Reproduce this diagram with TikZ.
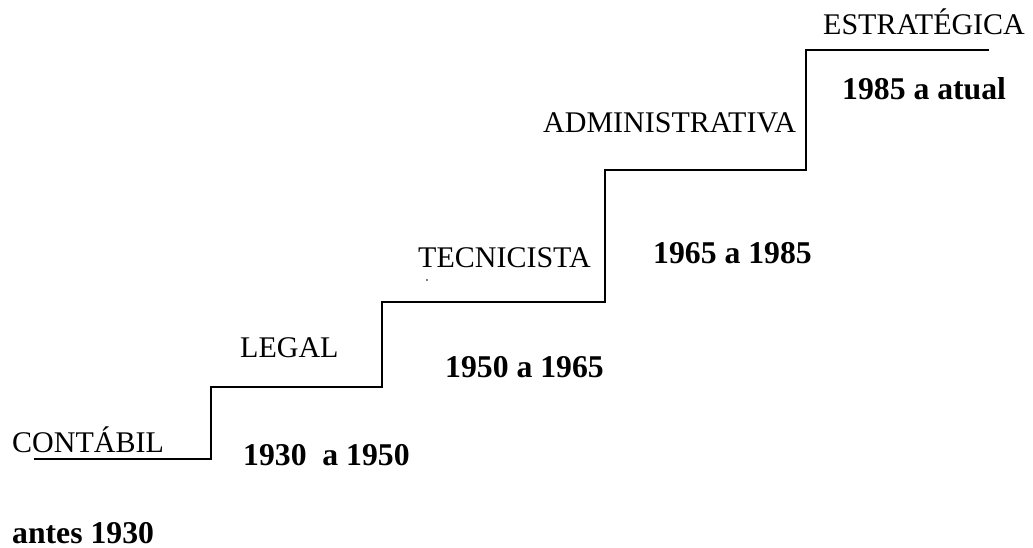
\documentclass[tikz,border=0pt]{standalone}
\usepackage{fontspec}
\setmainfont{Liberation Serif}
\begin{document}
\begin{tikzpicture}[x=1pt,y=-1pt,
  lbl/.style={anchor=base west,inner sep=0pt,font=\fontsize{30}{34}\selectfont},
  yr/.style={anchor=base west,inner sep=0pt,font=\fontsize{31.7}{36}\selectfont\bfseries},
  stair/.style={line width=1.6pt,line join=miter}]
\useasboundingbox (0,0) rectangle (1033,548);
\draw[stair] (34,459) -- (211,459) -- (211,387) -- (382,387) -- (382,302) -- (605,302) -- (605,170) -- (806,170) -- (806,50) -- (989,50);
\node[lbl] (contabil) at (12,452) {CONTÁBIL};
\node[lbl] (legal) at (240,357) {LEGAL};
\node[lbl] (tecnicista) at (418,267) {TECNICISTA};
\node[lbl] (admin) at (543,133) {ADMINISTRATIVA};
\node[lbl] (estrat) at (823,35) {ESTRATÉGICA};
\node[yr] (y0) at (12,543) {antes 1930};
\node[yr] (y1) at (243,465) {1930\ \ a 1950};
\node[yr] (y2) at (445,377) {1950 a 1965};
\node[yr] (y3) at (653,263) {1965 a 1985};
\node[yr] (y4) at (842,100) {1985 a atual};
\fill (427,280) circle (0.8);
\end{tikzpicture}
\end{document}
